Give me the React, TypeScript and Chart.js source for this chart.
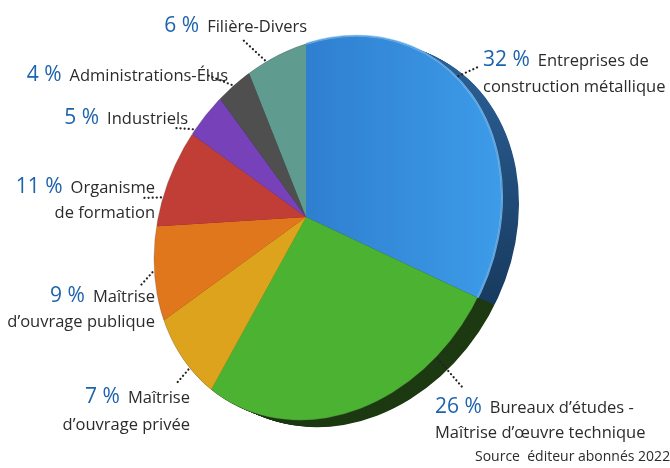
import React, { useEffect, useRef } from 'react';
import { Chart, registerables } from 'chart.js';

Chart.register(...registerables);

// ---------- data ----------
const CATEGORIES = [
  'Entreprises de construction métallique',
  'Bureaux d’études - Maîtrise d’œuvre technique',
  'Maîtrise d’ouvrage privée',
  'Maîtrise d’ouvrage publique',
  'Organisme de formation',
  'Industriels',
  'Administrations-Élus',
  'Filière-Divers',
];
const LABEL_LINES: string[][] = [
  ['Entreprises de', 'construction métallique'],
  ['Bureaux d’études -', 'Maîtrise d’œuvre technique'],
  ['Maîtrise', 'd’ouvrage privée'],
  ['Maîtrise', 'd’ouvrage publique'],
  ['Organisme', 'de formation'],
  ['Industriels'],
  ['Administrations-Élus'],
  ['Filière-Divers'],
];
const SHARES = [32, 26, 7, 9, 11, 5, 4, 6];
const SOURCE_TEXT = 'Source  éditeur abonnés 2022';

// ---------- styles / layout ----------
const FACE_COLORS = ['#3589db', '#4cb232', '#dea31c', '#e0771d', '#c13e37', '#7641b9', '#4f4f4f', '#5f9b8f'];
const SIDE_COLORS = ['#1d4a78', '#1d3a12', '#7a5a12', '#7a4010', '#6a2220', '#40245f', '#2a2a2a', '#35574f'];
const PCT_COLOR = '#1d63ad';
const TEXT_COLOR = '#2b2b2b';
const PCT_FONT = '21px "Open Sans", "Noto Sans", sans-serif';
const NAME_FONT = '16.5px "Open Sans", "Noto Sans", sans-serif';
const SOURCE_FONT = '14px "Open Sans", "Noto Sans", sans-serif';

const W = 670;
const H = 468;
const PIE_PADDING = { left: 89, right: 147, top: 0, bottom: 34 };
const ROTATION = 0;
const FACE = { cx: 328, cy: 228, rx: 200, ry: 165, rot: -60.75 };
const SIDE = { dx: 17, dy: 7, steps: 24 };

type LabelLayout = {
  frac: number;
  end: [number, number];
  x: number;
  y1: number;
  y2: number;
  align: 'left' | 'right';
};
const LABEL_LAYOUT: LabelLayout[] = [
  { frac: 0.41, end: [478, 67], x: 483, y1: 60, y2: 87, align: 'left' },
  { frac: 0.234, end: [463, 388], x: 435, y1: 407, y2: 433, align: 'left' },
  { frac: 0.35, end: [176, 384], x: 190, y1: 397, y2: 425, align: 'right' },
  { frac: 0.5, end: [141, 285], x: 155, y1: 296, y2: 322, align: 'right' },
  { frac: 0.285, end: [141, 198], x: 155, y1: 187, y2: 213, align: 'right' },
  { frac: 0.1, end: [174, 128], x: 188, y1: 118, y2: 0, align: 'right' },
  { frac: 0.46, end: [207, 75], x: 228, y1: 75, y2: 0, align: 'right' },
  { frac: 0.32, end: [242, 39], x: 307, y1: 26, y2: 0, align: 'right' },
];
const SOURCE_POS = { x: 475, y: 457 };

function facePath(ctx: CanvasRenderingContext2D, ox = 0, oy = 0) {
  ctx.beginPath();
  ctx.ellipse(FACE.cx + ox, FACE.cy + oy, FACE.rx, FACE.ry, (FACE.rot * Math.PI) / 180, 0, Math.PI * 2);
}

// distance along ray from (vx,vy) in direction (ux,uy) to the face ellipse edge
function rayToFace(vx: number, vy: number, ux: number, uy: number) {
  const r = (FACE.rot * Math.PI) / 180;
  const c = Math.cos(r), s = Math.sin(r);
  const px = vx - FACE.cx, py = vy - FACE.cy;
  const d0x = c * px + s * py, d0y = -s * px + c * py;
  const dux = c * ux + s * uy, duy = -s * ux + c * uy;
  const rx2 = FACE.rx * FACE.rx, ry2 = FACE.ry * FACE.ry;
  const a = (dux * dux) / rx2 + (duy * duy) / ry2;
  const b = 2 * ((d0x * dux) / rx2 + (d0y * duy) / ry2);
  const cc = (d0x * d0x) / rx2 + (d0y * d0y) / ry2 - 1;
  return (-b + Math.sqrt(b * b - 4 * a * cc)) / (2 * a);
}

function sectorPath(ctx: CanvasRenderingContext2D, p: any, ox = 0, oy = 0) {
  ctx.beginPath();
  ctx.moveTo(p.x + ox, p.y + oy);
  ctx.arc(p.x + ox, p.y + oy, p.outerRadius, p.startAngle, p.endAngle);
  ctx.closePath();
}

const pie3d = {
  id: 'pie3d',
  beforeDatasetsDraw(chart: any) {
    const ctx: CanvasRenderingContext2D = chart.ctx;
    const arcs = chart.getDatasetMeta(0).data;
    const blueSide = ctx.createLinearGradient(0, 60, 0, 330);
    blueSide.addColorStop(0, '#2b5f95');
    blueSide.addColorStop(1, '#163659');
    for (let k = SIDE.steps; k >= 1; k--) {
      const ox = (SIDE.dx * k) / SIDE.steps;
      const oy = (SIDE.dy * k) / SIDE.steps;
      ctx.save();
      facePath(ctx, ox, oy);
      ctx.clip();
      arcs.forEach((arc: any, i: number) => {
        const p = arc.getProps(['x', 'y', 'startAngle', 'endAngle', 'outerRadius'], true);
        sectorPath(ctx, p, ox, oy);
        ctx.fillStyle = i === 0 ? blueSide : SIDE_COLORS[i];
        ctx.fill();
      });
      ctx.restore();
    }
    ctx.save();
    facePath(ctx);
    ctx.clip();
  },
  afterDatasetsDraw(chart: any) {
    const ctx: CanvasRenderingContext2D = chart.ctx;
    ctx.restore();
    const arcs = chart.getDatasetMeta(0).data;

    // light highlight on the blue slice edge
    const p0 = arcs[0].getProps(['x', 'y', 'startAngle', 'endAngle', 'outerRadius'], true);
    ctx.save();
    sectorPath(ctx, p0);
    ctx.clip();
    facePath(ctx);
    ctx.lineWidth = 2;
    ctx.strokeStyle = 'rgba(120,195,255,0.85)';
    ctx.stroke();
    ctx.restore();

    // soft rim on the face
    ctx.save();
    facePath(ctx);
    ctx.lineWidth = 1;
    ctx.strokeStyle = 'rgba(70,70,70,0.25)';
    ctx.stroke();
    ctx.restore();

    arcs.forEach((arc: any, i: number) => {
      const p = arc.getProps(['x', 'y', 'startAngle', 'endAngle'], true);
      const L = LABEL_LAYOUT[i];
      const a = p.startAngle + L.frac * (p.endAngle - p.startAngle);
      const ux = Math.cos(a), uy = Math.sin(a);
      const s = rayToFace(p.x, p.y, ux, uy) + 2;
      const sx = p.x + ux * s, sy = p.y + uy * s;

      // dotted leader
      ctx.save();
      ctx.strokeStyle = '#222';
      ctx.lineWidth = 2.2;
      ctx.lineCap = 'round';
      ctx.setLineDash([0.1, 4]);
      ctx.beginPath();
      ctx.moveTo(sx, sy);
      ctx.lineTo(L.end[0], L.end[1]);
      ctx.stroke();
      ctx.restore();

      // text
      const pct = `${SHARES[i]} %`;
      const lines = LABEL_LINES[i];
      ctx.save();
      ctx.textBaseline = 'middle';
      ctx.font = PCT_FONT;
      const wPct = ctx.measureText(pct).width;
      ctx.font = NAME_FONT;
      const wName = ctx.measureText(lines[0]).width;
      const gap = 8;
      let pctX: number, nameX: number;
      if (L.align === 'left') {
        pctX = L.x;
        nameX = L.x + wPct + gap;
      } else {
        nameX = L.x - wName;
        pctX = nameX - gap - wPct;
      }
      ctx.textAlign = 'left';
      ctx.font = PCT_FONT;
      ctx.fillStyle = PCT_COLOR;
      ctx.fillText(pct, pctX, L.y1);
      ctx.font = NAME_FONT;
      ctx.fillStyle = TEXT_COLOR;
      ctx.fillText(lines[0], nameX, L.y1 + 1);
      if (lines[1]) {
        ctx.textAlign = L.align;
        ctx.fillText(lines[1], L.x, L.y2);
      }
      ctx.restore();
    });

    ctx.save();
    ctx.font = SOURCE_FONT;
    ctx.fillStyle = TEXT_COLOR;
    ctx.textBaseline = 'middle';
    ctx.textAlign = 'left';
    ctx.fillText(SOURCE_TEXT, SOURCE_POS.x, SOURCE_POS.y);
    ctx.restore();
  },
};

export default function App() {
  const ref = useRef<HTMLCanvasElement | null>(null);

  useEffect(() => {
    document.body.style.margin = '0';
    const canvas = ref.current;
    if (!canvas) return;
    const c2d = canvas.getContext('2d') as CanvasRenderingContext2D;
    const blueFace = c2d.createLinearGradient(300, 0, 505, 0);
    blueFace.addColorStop(0, '#2f7ecf');
    blueFace.addColorStop(1, '#3d9ce9');
    const colors: any[] = FACE_COLORS.slice();
    colors[0] = blueFace;

    const chart = new Chart(canvas, {
      type: 'pie',
      data: {
        labels: CATEGORIES,
        datasets: [
          {
            data: SHARES,
            backgroundColor: colors,
            borderWidth: 0,
            hoverOffset: 0,
            clip: false as any,
          } as any,
        ],
      },
      options: {
        responsive: false,
        animation: false,
        events: [],
        rotation: ROTATION,
        layout: { padding: PIE_PADDING },
        plugins: {
          legend: { display: false },
          tooltip: { enabled: false },
        },
      },
      plugins: [pie3d],
    });
    return () => chart.destroy();
  }, []);

  return (
    <div style={{ width: W, height: H }}>
      <canvas ref={ref} width={W} height={H} style={{ display: 'block', width: W, height: H }} />
    </div>
  );
}
